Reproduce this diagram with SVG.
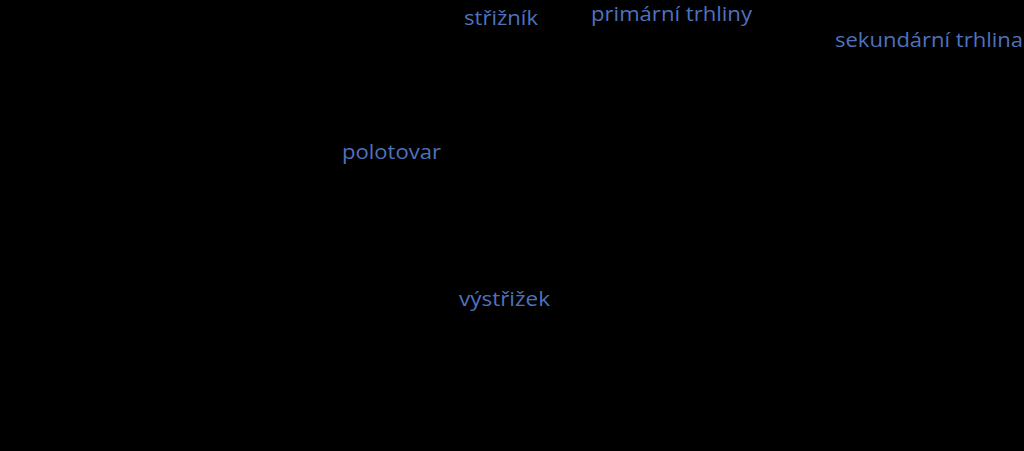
<svg xmlns="http://www.w3.org/2000/svg" width="1024" height="451" viewBox="0 0 1024 451">
<style>
.lbl{font-family:"Open Sans","Noto Sans","Liberation Sans",sans-serif;font-size:20px;fill:#4f72bd;}
</style>
<rect x="0" y="0" width="1024" height="451" fill="#000000"/>
<g id="striznik"><text class="lbl" x="464" y="25" textLength="74" lengthAdjust="spacingAndGlyphs">střižník</text></g>
<g id="primarni-trhliny"><text class="lbl" x="591" y="21" textLength="161" lengthAdjust="spacingAndGlyphs">primární trhliny</text></g>
<g id="sekundarni-trhlina"><text class="lbl" x="835" y="47" textLength="188" lengthAdjust="spacingAndGlyphs">sekundární trhlina</text></g>
<g id="polotovar"><text class="lbl" x="342" y="159" textLength="99" lengthAdjust="spacingAndGlyphs">polotovar</text></g>
<g id="vystrizek"><text class="lbl" x="459" y="306" textLength="91" lengthAdjust="spacingAndGlyphs">výstřižek</text></g>
<g id="connectors"></g>
</svg>
